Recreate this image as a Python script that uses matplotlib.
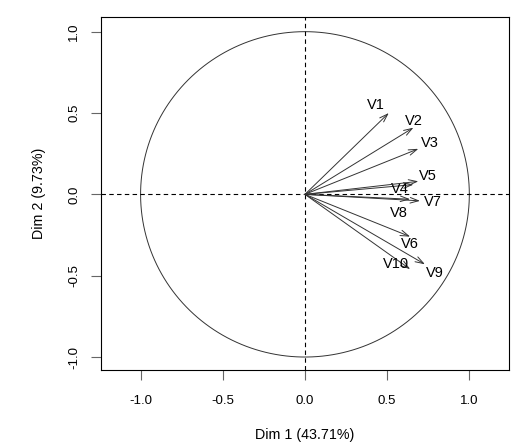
import numpy as np
import matplotlib.pyplot as plt

plt.rcParams['font.family'] = ['Liberation Sans', 'DejaVu Sans']

# PCA variable coordinates (Dim 1, Dim 2)
variables = ['V1', 'V2', 'V3', 'V4', 'V5', 'V6', 'V7', 'V8', 'V9', 'V10']
dim1 = [0.51, 0.66, 0.69, 0.66, 0.69, 0.64, 0.70, 0.64, 0.73, 0.64]
dim2 = [0.50, 0.41, 0.28, 0.06, 0.08, -0.26, -0.04, -0.03, -0.43, -0.46]
ticks = [-1.0, -0.5, 0.0, 0.5, 1.0]

# label offsets in points (dx, dy) from each arrow tip
label_offsets = {
    'V1': (-9, 6), 'V2': (0, 5), 'V3': (8, 4), 'V4': (-10, -3), 'V5': (7, 4),
    'V6': (0, -5), 'V7': (9, -1), 'V8': (-8, -10), 'V9': (7, -6), 'V10': (-10, 4),
}

fig = plt.figure(figsize=(5.16, 4.48), dpi=100)
ax = fig.add_axes([0.196, 0.174, 0.79, 0.788])

theta = np.linspace(0, 2 * np.pi, 400)
ax.plot(np.cos(theta), np.sin(theta), color='#333333', lw=0.7)
ax.axhline(0, color='black', lw=0.8, ls=(0, (4, 3)))
ax.axvline(0, color='black', lw=0.8, ls=(0, (4, 3)))

for name, x, y in zip(variables, dim1, dim2):
    ax.annotate('', xy=(x, y), xytext=(0, 0),
                arrowprops=dict(arrowstyle='->,head_length=0.6,head_width=0.2',
                                color='#333333', lw=0.7, shrinkA=0, shrinkB=0))
    dx, dy = label_offsets[name]
    ax.annotate(name, xy=(x, y), xytext=(dx, dy), textcoords='offset points',
                ha='center', va='center', fontsize=10.5, color='black')

ax.set_xlim(-1.24, 1.24)
ax.set_ylim(-1.08, 1.09)
ax.set_xticks(ticks)
ax.set_yticks(ticks)
ax.set_xticklabels([f'{t:.1f}' for t in ticks])
ax.set_yticklabels([f'{t:.1f}' for t in ticks], rotation=90, va='center')
ax.tick_params(direction='out', length=7, width=0.8, color='#666666',
               labelsize=9.5)
ax.tick_params(axis='x', pad=11)
ax.tick_params(axis='y', pad=8)
for s in ax.spines.values():
    s.set_linewidth(0.8)
ax.set_xlabel('Dim 1 (43.71%)', fontsize=10.3, labelpad=15)
ax.set_ylabel('Dim 2 (9.73%)', fontsize=10.3, labelpad=16)

fig.savefig('out.png', dpi=100)
